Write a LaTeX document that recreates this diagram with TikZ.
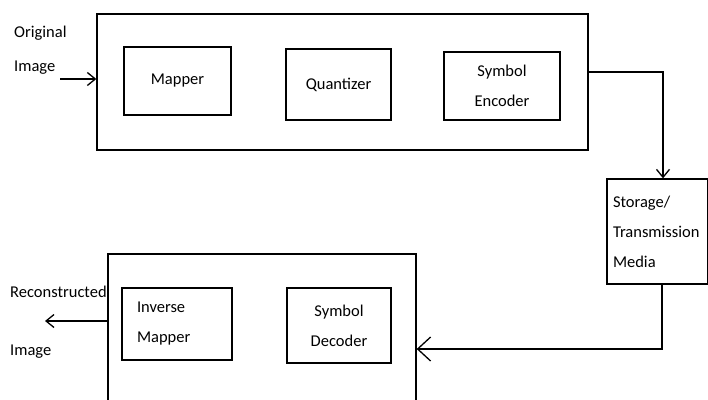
\documentclass[tikz,border=0pt]{standalone}
\usepackage{fontspec}
\setmainfont{Carlito}
\usetikzlibrary{arrows.meta}

\begin{document}
\begin{tikzpicture}[x=1pt,y=-1pt]
		\tikzset{box/.style = {shape=rectangle, draw, line width=1.3pt, inner sep=0pt, align=center,
			font=\fontsize{16.5}{30}\selectfont}}
		\tikzset{txt/.style = {inner sep=0pt, anchor=west, align=left, font=\fontsize{16.5}{34}\selectfont}}
		\tikzset{edge/.style = {line width=1.3pt, -{Straight Barb[length=8pt,width=13pt]}}}
		\tikzset{bigedge/.style = {line width=1.3pt, -{Straight Barb[length=13pt,width=24pt]}}}

		\useasboundingbox (0,0) rectangle (708,399);
		\clip (0,0) rectangle (708,399);

		% encoder side
		\node[box, minimum width=491, minimum height=136] (Top) at (342.5,82) {};
		\node[box, minimum width=107, minimum height=68] (Map) at (177.5,81) {Mapper};
		\node[box, minimum width=105, minimum height=71] (Quant) at (338.5,84.5) {Quantizer};
		\node[box, minimum width=116, minimum height=68] (Enc) at (502,86) {Symbol\\Encoder};

		\node[box, text width=89, inner xsep=6, minimum height=105, align=left] (Sto) at (657.5,231.5) {Storage/\\Transmission\\Media};

		% decoder side
		\node[box, minimum width=308, minimum height=166] (Bot) at (262,337) {};
		\node[box, text width=80, inner xsep=15, minimum height=72, align=left] (InvMap) at (177,324) {Inverse\\Mapper};
		\node[box, minimum width=104, minimum height=75] (Dec) at (339,325.5) {Symbol\\Decoder};

		\node[txt] (Orig) at (14,50) {Original\\Image};
		\node[txt] (Rec) at (10,292) {Reconstructed};
		\node[txt] (RecImg) at (10,352) {Image};

		\coordinate (In) at (60,79);
		\coordinate (Out) at (45,321);
		\coordinate (Bend1) at (663,72);
		\coordinate (Bend2) at (662,349);

		\draw[edge] (In) to (In -| Top.west);
		\draw[edge] (Top.east |- Bend1) -- (Bend1) -- (Bend1 |- Sto.north);
		\draw[bigedge] (Bend2 |- Sto.south) -- (Bend2) -- (Bend2 -| Bot.east);
		\draw[edge] (Bot.west |- Out) to (Out);

	\end{tikzpicture}
\end{document}
